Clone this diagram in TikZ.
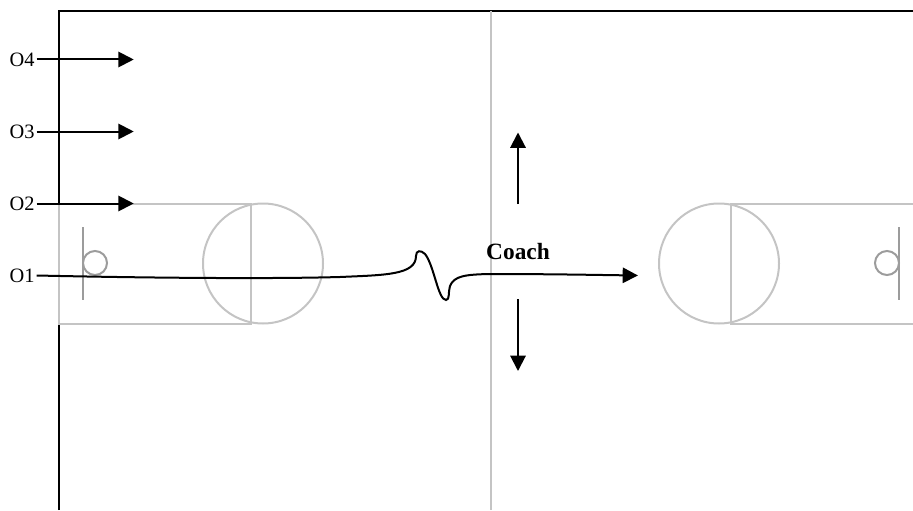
\documentclass[tikz,border=0pt]{standalone}
\usepackage{fontspec}
\setmainfont{Liberation Serif}
\usetikzlibrary{arrows.meta,positioning}
\definecolor{courtgrey}{HTML}{C4C4C4}
\definecolor{rimgrey}{HTML}{9C9C9C}
\tikzset{
  player/.style={inner sep=1.5pt, font=\fontsize{15.3}{15.3}\selectfont},
  run/.style={line width=1.5pt, -{Triangle[length=11.5pt, width=11.5pt]}},
  court/.style={draw=courtgrey, line width=1.5pt},
  rim/.style={draw=rimgrey, line width=1.5pt},
}

\begin{document}
\begin{tikzpicture}[x=0.75pt, y=-0.75pt]
  \useasboundingbox (0,0) rectangle (913,510);
  % outer lines
  \draw[line width=1.5pt] (59,510) -- (59,11) -- (913,11);
  \draw[court] (491,11) -- (491,510);
  % left end
  \draw[court] (251,203.5) -- (59,203.5) -- (59,323.5) -- (251,323.5) -- cycle;
  \draw[court] (263,263.5) circle (60);
  \draw[rim] (83,227) -- (83,300);
  \draw[rim] (95,263) circle (12);
  % right end
  \draw[court] (913,203.5) -- (731,203.5) -- (731,323.5) -- (913,323.5);
  \draw[court] (719,263.5) circle (60);
  \draw[rim] (899,227) -- (899,300);
  \draw[rim] (887,263) circle (12);
  % players
  \node[player] (O4) at (22,59.5) {O4};
  \node[player] (O3) at (22,131.5) {O3};
  \node[player] (O2) at (22,203.5) {O2};
  \node[player] (O1) at (22,275.5) {O1};
  \foreach \p in {O4,O3,O2}
    \draw[run] (\p.east) -- ++(97,0);
  \coordinate (finish) at (638,275.5);
  \draw[run] (O1.east) .. controls (150,278) and (270,279) .. (340,277)
    .. controls (385,275) and (416,275) .. (416,256)
    .. controls (416,250) and (421,250) .. (425,254)
    .. controls (434,265) and (438,300) .. (446,300)
    .. controls (450,300) and (448,292) .. (450,286)
    .. controls (454,276) and (465,274.5) .. (490,274)
    .. controls (550,274) and (600,275) .. (finish);
  % coach
  \node[font=\fontsize{17.5}{17.5}\selectfont\bfseries, inner sep=0pt] (coach) at (518,252) {Coach};
  \coordinate (upfoot) at (518,204);
  \coordinate (uptip) at (518,132.5);
  \coordinate (downfoot) at (518,299);
  \coordinate (downtip) at (518,371);
  \draw[run] (upfoot) -- (uptip);
  \draw[run] (downfoot) -- (downtip);
\end{tikzpicture}
\end{document}
